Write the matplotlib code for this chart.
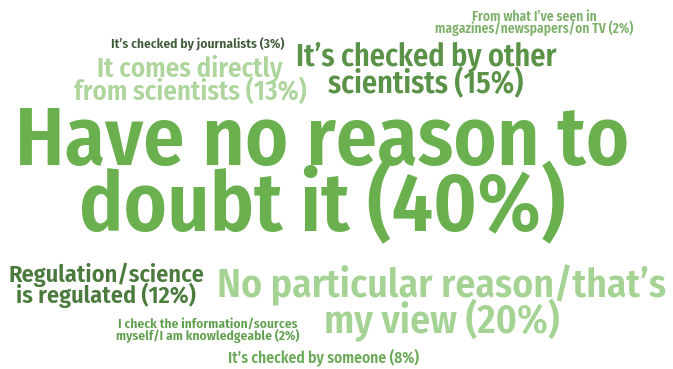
import matplotlib
matplotlib.use('Agg')
import matplotlib.pyplot as plt
from matplotlib import font_manager

# answers and share of respondents
labels = [
    "It’s checked by journalists",
    "It comes directly\nfrom scientists",
    "It’s checked by other\nscientists",
    "From what I’ve seen in\nmagazines/newspapers/on TV",
    "Have no reason to\ndoubt it",
    "Regulation/science\nis regulated",
    "No particular reason/that’s\nmy view",
    "I check the information/sources\nmyself/I am knowledgeable",
    "It’s checked by someone",
]
percents = [3, 13, 15, 2, 40, 12, 20, 2, 8]
colors = ['#3e5a38', '#add59c', '#5a9348', '#7cb06a', '#6ab04f',
          '#4a7a3c', '#a5d393', '#5e9e4c', '#6aa957']

# layout in pixels: centre x, first baseline y, line gap, width of widest line
xs = [198, 190, 426, 534, 322, 106, 442, 208, 324]
ys = [48, 77, 65, 21, 165, 282, 297, 328, 362]
gaps = [0, 23, 28, 12, 66, 21, 36, 12, 0]
widths = [173, 234, 262, 199, 618, 196, 452, 184, 192]

# pick a condensed face that is installed
have = {f.name for f in font_manager.fontManager.ttflist}
family = 'DejaVu Sans'
for cand in ['Fira Sans Condensed', 'Roboto Condensed', 'Archivo Narrow',
             'PT Sans Narrow', 'Barlow Semi Condensed']:
    if cand in have:
        family = cand
        break

fig = plt.figure(figsize=(6.73, 3.69), dpi=100)
ax = fig.add_axes([0, 0, 1, 1])
ax.set_xlim(0, 673)
ax.set_ylim(369, 0)
ax.axis('off')
renderer = fig.canvas.get_renderer()

for lab, p, c, x, y, g, w in zip(labels, percents, colors, xs, ys, gaps, widths):
    lines = (lab + ' (%d%%)' % p).split('\n')
    # size the font so the widest line gets the target width
    probe = [ax.text(0, 0, ln, fontsize=10, family=family, fontweight='semibold')
             for ln in lines]
    widest = max(t.get_window_extent(renderer).width for t in probe)
    for t in probe:
        t.remove()
    size = 10 * w / widest
    for i, ln in enumerate(lines):
        ax.text(x, y + i * g, ln, fontsize=size, family=family,
                fontweight='semibold', color=c, ha='center', va='baseline')

fig.savefig('out.png', dpi=100)
